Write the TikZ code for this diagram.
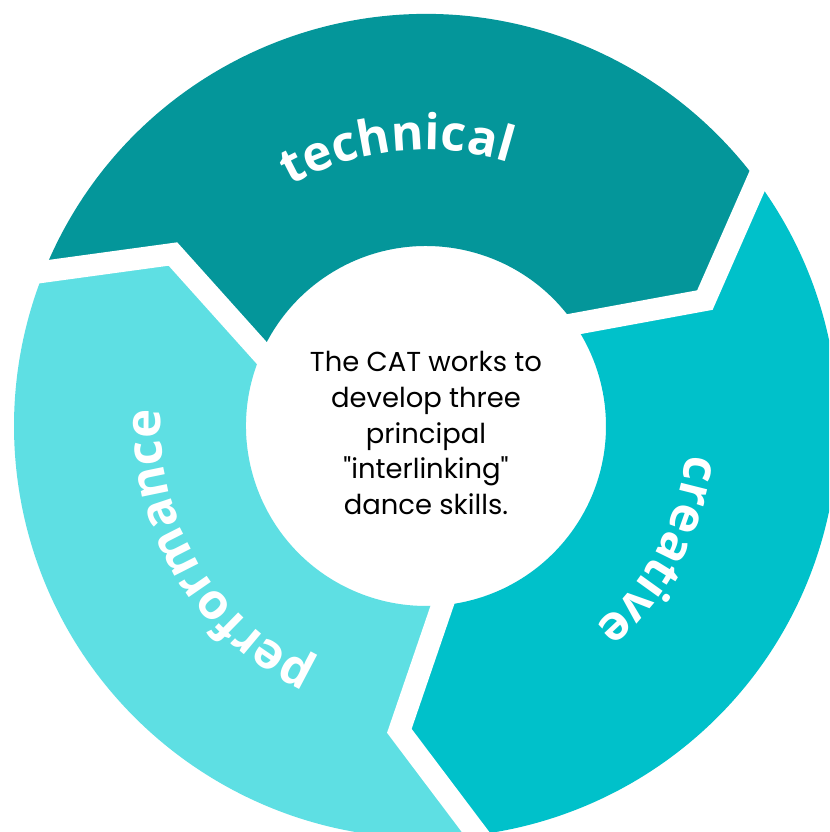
\documentclass[tikz,border=0pt]{standalone}
\usepackage{fontspec}
\setmainfont{Poppins}[Ligatures=TeXOff]
\newfontfamily\ringfont{Open Sans}
\usetikzlibrary{calc, decorations.text}
\definecolor{techcol}{HTML}{04969A}
\definecolor{creacol}{HTML}{00C1CA}
\definecolor{perfcol}{HTML}{5EDFE3}
\newcommand{\lblfont}{\ringfont\bfseries\fontsize{28}{28}\selectfont}
\begin{document}
\begin{tikzpicture}
  % Styles
  \tikzstyle{gap} = [draw=white, line width=0.44cm, line join=miter]
  \tikzstyle{ringlabel} = [decorate, decoration={text along path, text align=center, text color=white}]
  \tikzstyle{centretext} = [align=center, text=black, font=\fontsize{15.6}{20.3}\selectfont]

  % Frame
  \useasboundingbox (-8.52,-8.12) rectangle (8.06,8.52);
  \clip (-8.52,-8.12) rectangle (8.06,8.52);
  \fill[white] (-8.52,-8.12) rectangle (8.06,8.52);

  % Segments
  \foreach \sa/\sb/\col in {156/34.5/techcol, 34.5/-84.8/creacol, -84.8/-204/perfcol}
    \fill[\col] ({\sa+2}:8.24) arc[start angle={\sa+2}, end angle={\sb+2}, radius=8.24]
      -- ({\sb-10.2}:6.12) -- (\sb:3.6) arc[start angle=\sb, end angle=\sa, radius=3.6]
      -- ({\sa-10.2}:6.12) -- cycle;

  % Gaps
  \foreach \c in {156, 34.5, -84.8} {
    \coordinate (out) at ({\c+2}:8.24);
    \coordinate (mid) at ({\c-10.2}:6.12);
    \coordinate (in) at (\c:3.6);
    \draw[gap] ($(mid)!1.15!(out)$) -- (mid) -- ($(mid)!1.15!(in)$);
  }

  % Labels
  \path[ringlabel, decoration={text={|\lblfont|technical}}] (156:5.52) arc[start angle=156, end angle=36, radius=5.52];
  \path[ringlabel, decoration={text={|\lblfont|creative}}] (32:5.24) arc[start angle=32, end angle=-88, radius=5.24];
  \path[ringlabel, decoration={text={|\lblfont|performance}}] (271:5.3) arc[start angle=271, end angle=151, radius=5.3];

  % Nodes
  \node[centretext] (centre) at (0,-0.14) {The CAT works to\\develop three\\principal\\"interlinking"\\dance skills.};
\end{tikzpicture}
\end{document}
